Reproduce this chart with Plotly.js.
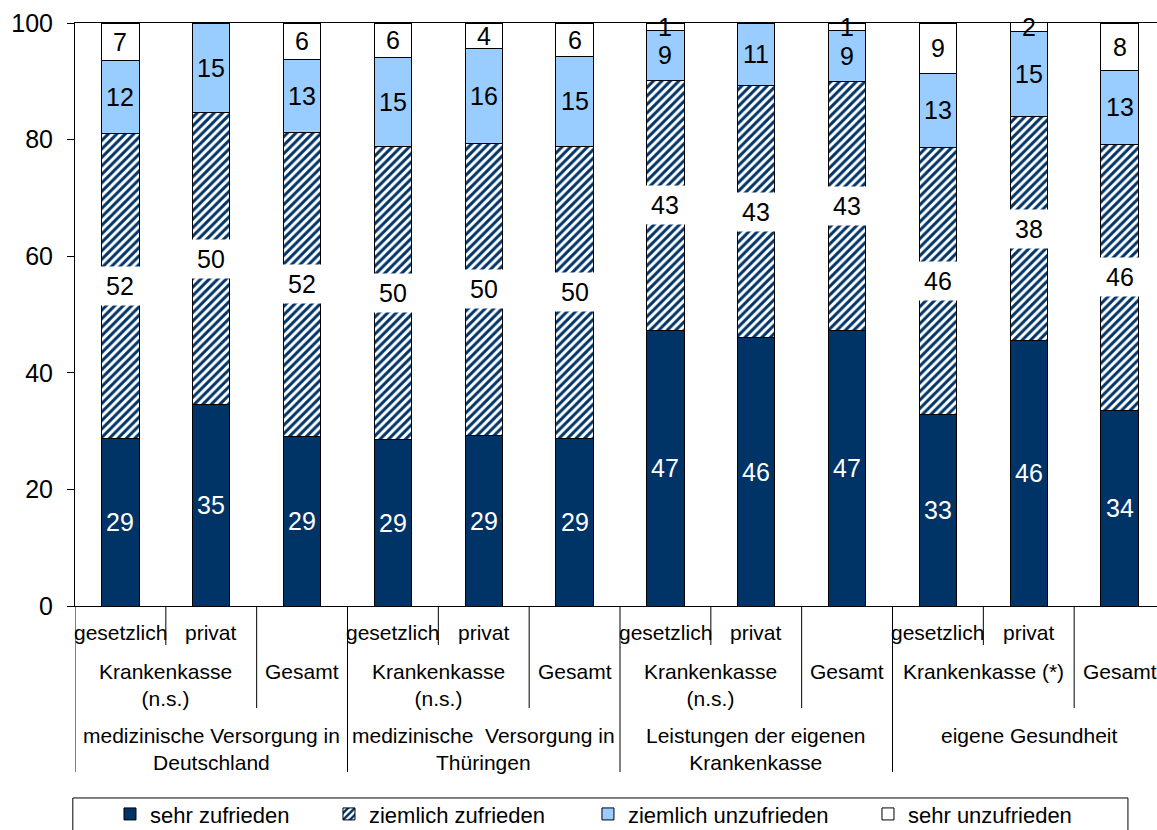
<!DOCTYPE html>
<html>
<head>
<meta charset="utf-8">
<script src="https://cdn.plot.ly/plotly-3.0.1.min.js"></script>
<style>
html,body{margin:0;padding:0;overflow:hidden;background:#fff;}
#chart{width:1166px;height:830px;}
</style>
</head>
<body>
<div id="chart"></div>
<script>
// ---- data (percent) ----
var seriesNames = ['sehr zufrieden', 'ziemlich zufrieden', 'ziemlich unzufrieden', 'sehr unzufrieden'];
var sehrZufrieden      = [28.8, 34.6, 29.0, 28.6, 29.3, 28.8, 47.3, 46.1, 47.3, 32.8, 45.6, 33.6];
var ziemlichZufrieden  = [52.3, 50.0, 52.3, 50.3, 50.1, 50.1, 42.8, 43.1, 42.7, 45.9, 38.3, 45.6];
var ziemlichUnzufrieden= [12.4, 15.4, 12.5, 15.1, 16.2, 15.3, 8.7, 10.8, 8.8, 12.7, 14.6, 12.7];
var sehrUnzufrieden    = [6.5, 0, 6.2, 6.0, 4.4, 5.8, 1.2, 0, 1.2, 8.6, 1.6, 8.1];

var subLabels = ['gesetzlich', 'privat', '', 'gesetzlich', 'privat', '', 'gesetzlich', 'privat', '', 'gesetzlich', 'privat', ''];
var groupLabels = ['Krankenkasse<br>(n.s.)', 'Gesamt', 'Krankenkasse<br>(n.s.)', 'Gesamt', 'Krankenkasse<br>(n.s.)', 'Gesamt', 'Krankenkasse (*)', 'Gesamt'];
var topicLabels = ['medizinische Versorgung in<br>Deutschland', 'medizinische  Versorgung in<br>Thüringen', 'Leistungen der eigenen<br>Krankenkasse', 'eigene Gesundheit'];

var FONT = '"Liberation Sans", Arial, sans-serif';
var NAVY = '#003366', LIGHT = '#99CCFF';

var series = [sehrZufrieden, ziemlichZufrieden, ziemlichUnzufrieden, sehrUnzufrieden];
var xs = subLabels.map(function(_, i){ return i; });

var markers = [
  {color: NAVY, line: {color: '#000', width: 1}},
  {color: NAVY, line: {color: '#000', width: 1}, pattern: {shape: '/', fgcolor: NAVY, bgcolor: '#ffffff', size: 6, solidity: 0.5}},
  {color: LIGHT, line: {color: '#000', width: 1}},
  {color: '#ffffff', line: {color: '#000', width: 1}}
];
var legendIds = ['legend', 'legend2', 'legend3', 'legend4'];

var traces = series.map(function(vals, s){
  return {
    type: 'bar', x: xs, y: vals, name: seriesNames[s],
    marker: markers[s], textposition: 'none', hoverinfo: 'skip',
    legend: legendIds[s]
  };
});

// ---- value labels ----
var annotations = [];
var labelColors = ['#ffffff', '#000000', '#000000', '#000000'];
xs.forEach(function(i){
  var base = 0;
  series.forEach(function(vals, s){
    var v = vals[i];
    var r = Math.round(v);
    if (r > 0) {
      var a = {
        x: i, y: base + v / 2, xref: 'x', yref: 'y', text: String(r), showarrow: false,
        font: {family: FONT, size: 25, color: labelColors[s]}
      };
      if (s === 1) { a.bgcolor = '#ffffff'; a.width = 46; a.height = 34; a.borderpad = 2; }
      annotations.push(a);
    }
    base += v;
  });
});

// ---- multi-level category axis ----
var catFont = {family: FONT, size: 21, color: '#000'};
subLabels.forEach(function(t, i){
  if (t) annotations.push({x: i, y: -0.0218, xref: 'x', yref: 'paper', yanchor: 'top', text: t, showarrow: false, font: catFont});
});
var gpos = [];
for (var g = 0; g < 4; g++) { gpos.push(g * 3 + 0.5); gpos.push(g * 3 + 2); }
groupLabels.forEach(function(t, k){
  annotations.push({x: gpos[k], y: -0.0899, xref: 'x', yref: 'paper', yanchor: 'top', text: t, showarrow: false, font: catFont});
});
topicLabels.forEach(function(t, k){
  annotations.push({x: k * 3 + 1, y: -0.1998, xref: 'x', yref: 'paper', yanchor: 'top', text: t, showarrow: false, font: catFont});
});

var shapes = [];
function vline(x, yb){
  shapes.push({type: 'line', xref: 'x', yref: 'paper', x0: x, x1: x, y0: 0, y1: yb, line: {color: '#000', width: 1}});
}
for (var t = 0; t < 4; t++) {
  vline(t * 3 + 0.5, -0.0669);
  vline(t * 3 + 1.5, -0.175);
}
for (var b = 0; b <= 4; b++) vline(b * 3 - 0.5, -0.2847);

// legend frame
shapes.push({type: 'rect', xref: 'paper', yref: 'paper', x0: -0.002, x1: 0.966, y0: -0.3293, y1: -0.45, line: {color: '#000', width: 1}, fillcolor: 'rgba(0,0,0,0)'});

var legXs = [0.0321, 0.233, 0.4706, 0.7275];
var layout = {
  width: 1166, height: 830,
  margin: {l: 75, r: 1, t: 23, b: 224, pad: 0, autoexpand: false},
  paper_bgcolor: '#fff', plot_bgcolor: '#fff',
  font: {family: FONT, color: '#000'},
  barmode: 'stack', bargap: 0.59,
  xaxis: {range: [-0.5, 11.5], showticklabels: false, ticks: '', showgrid: false, zeroline: false,
          showline: true, mirror: true, linecolor: '#000', linewidth: 1, fixedrange: true, automargin: false},
  yaxis: {range: [0, 100], tickvals: [0, 20, 40, 60, 80, 100], ticks: 'outside', ticklen: 7, tickcolor: '#000',
          showgrid: false, zeroline: false, showline: true, linecolor: '#000', linewidth: 1,
          tickfont: {family: FONT, size: 25, color: '#000'}, ticklabelstandoff: 9, fixedrange: true, automargin: false},
  annotations: annotations,
  shapes: shapes,
  showlegend: true
};
legendIds.forEach(function(id, k){
  layout[id] = {x: legXs[k], y: -0.357, xanchor: 'left', yanchor: 'middle', orientation: 'h',
                font: {family: FONT, size: 22, color: '#000'}, bgcolor: 'rgba(0,0,0,0)', borderwidth: 0,
                itemclick: false, itemdoubleclick: false};
});

Plotly.newPlot('chart', traces, layout, {displayModeBar: false, staticPlot: true});
</script>
</body>
</html>
